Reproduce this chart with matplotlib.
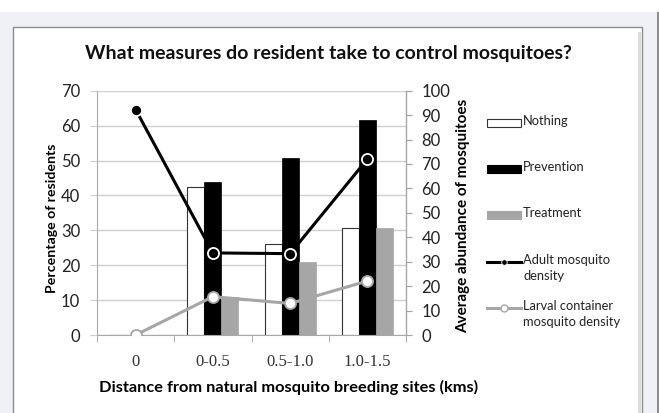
import numpy as np
import matplotlib.pyplot as plt
from matplotlib.patches import Rectangle
from matplotlib.lines import Line2D

# data
categories = ['0', '0-0.5', '0.5-1.0', '1.0-1.5']
nothing = [0, 42.5, 26, 30.8]
prevention = [0, 43.7, 50.8, 61.7]
treatment = [0, 11, 21, 30.8]
adult_density = [92.3, 33.6, 33.3, 72]
larval_density = [0, 15.7, 12.9, 22.1]

plt.rcParams['font.family'] = ['Lato', 'DejaVu Sans']

fig = plt.figure(figsize=(6.59, 4.13), dpi=100)
fig.patch.set_facecolor('#f0f1f7')

# white chart box like the excel frame
W, H = 659, 413
def fx(px): return px / W
def fy(py): return 1 - py / H

fig.patches.append(Rectangle((0, fy(12)), 1, 12 / H, transform=fig.transFigure,
                             facecolor='white', edgecolor='none', zorder=-5))
fig.patches.append(Rectangle((fx(13), -0.01), (642 - 13) / W, (413 - 27) / H + 0.01,
                             transform=fig.transFigure, facecolor='white',
                             edgecolor='#8c8c8c', linewidth=1.0, zorder=-5))
fig.patches.append(Rectangle((fx(638), -0.01), 3 / W, (413 - 28) / H,
                             transform=fig.transFigure, facecolor='#dcdcdc',
                             edgecolor='none', zorder=-5))
fig.patches.append(Rectangle((fx(657), 0), 2 / W, fy(12), transform=fig.transFigure,
                             facecolor='#8c8c8c', edgecolor='none', zorder=-5))

ax = fig.add_axes([fx(97), fy(335), (406 - 97) / W, (335 - 90.7) / H])
ax.set_facecolor('none')
ax2 = ax.twinx()

x = np.arange(len(categories))
bw = 0.22
grid_c = '#d0d0d0'
gray = '#a6a6a6'

ax.bar(x - bw, nothing, bw, color='white', edgecolor='#333333', linewidth=0.8, zorder=2)
ax.bar(x, prevention, bw, color='black', edgecolor='black', linewidth=0.5, zorder=2)
ax.bar(x + bw, treatment, bw, color=gray, edgecolor=gray, linewidth=0.5, zorder=2)

ax.set_ylim(0, 70)
ax.set_xlim(-0.5, 3.5)
ax.set_yticks(np.arange(0, 71, 10))
ax.yaxis.grid(True, color=grid_c, linewidth=1.0, zorder=0)
ax.set_axisbelow(True)
ax.tick_params(axis='y', length=5, color=grid_c, pad=7, labelsize=12, labelcolor='#222222')
ax.set_xticks(x)
ax.set_xticklabels(categories, family='Liberation Serif', fontsize=12, color='#333333')
ax.set_xticks(np.arange(-0.5, 3.6, 1), minor=True)
ax.tick_params(axis='x', which='major', length=0, pad=14)
ax.tick_params(axis='x', which='minor', length=5, color='#a0a0a0', direction='out')

ax.spines['top'].set_visible(False)
ax2.spines['top'].set_visible(False)
for s in ['left', 'bottom']:
    ax.spines[s].set_color('#a8a8a8')
ax2.spines['right'].set_color('#a8a8a8')
ax2.spines['left'].set_visible(False)
ax2.spines['bottom'].set_visible(False)

ax.set_ylabel('Percentage of residents', fontsize=10.2, fontweight='bold')
ax.yaxis.set_label_coords((52 - 97) / 309, (335 - 218) / 244.3)
ax.set_xlabel('Distance from natural mosquito breeding sites (kms)', fontsize=11.8,
              fontweight='bold')
ax.xaxis.set_label_coords((289 - 97) / 309, -(387 - 335) / 244.3)
ax.xaxis.label.set_va('center')
ax.yaxis.label.set_va('center')

ax2.set_ylim(0, 100)
ax2.set_yticks(np.arange(0, 101, 10))
ax2.tick_params(axis='y', length=4, color='#a0a0a0', pad=7, labelsize=12, labelcolor='#222222')
ax2.set_ylabel('Average abundance of mosquitoes', fontsize=11, fontweight='bold')
ax2.yaxis.set_label_coords((463 - 97) / 309, (335 - 216) / 244.3)
ax2.yaxis.label.set_va('center')

ax2.plot(x, adult_density, color='black', linewidth=2.2, marker='o', markersize=8,
         markerfacecolor='black', markeredgecolor='white', markeredgewidth=1.3, zorder=4)
ax2.plot(x, larval_density, color=gray, linewidth=2.2, marker='o', markersize=8,
         markerfacecolor='white', markeredgecolor=gray, markeredgewidth=1.3, zorder=3)

fig.text(fx(328), fy(53), 'What measures do resident take to control mosquitoes?',
         ha='center', va='center', fontsize=14, fontweight='bold', color='#111111')

# legend laid out the way excel does it: handle next to the first text line
labels = ['Nothing', 'Prevention', 'Treatment', 'Adult mosquito\ndensity',
          'Larval container\nmosquito density']
rows = [123, 169, 215, 262, 308]
hx0, hx1, tx = 487, 521, 523
for lab, ry in zip(labels, rows):
    if lab == 'Nothing':
        fig.add_artist(Rectangle((fx(hx0), fy(ry + 4)), (hx1 - hx0) / W, 8 / H,
                                 transform=fig.transFigure, facecolor='white',
                                 edgecolor='#333333', linewidth=0.8))
    elif lab == 'Prevention':
        fig.add_artist(Rectangle((fx(hx0), fy(ry + 4)), (hx1 - hx0) / W, 8 / H,
                                 transform=fig.transFigure, facecolor='black',
                                 edgecolor='black', linewidth=0.8))
    elif lab == 'Treatment':
        fig.add_artist(Rectangle((fx(hx0), fy(ry + 4)), (hx1 - hx0) / W, 8 / H,
                                 transform=fig.transFigure, facecolor=gray,
                                 edgecolor=gray, linewidth=0.8))
    elif lab.startswith('Adult'):
        fig.add_artist(Line2D([fx(hx0), fx(hx1)], [fy(ry)] * 2, transform=fig.transFigure,
                              color='black', linewidth=2.2))
        fig.add_artist(Line2D([fx((hx0 + hx1) / 2)], [fy(ry)], transform=fig.transFigure,
                              marker='o', markersize=4, color='black',
                              markeredgecolor='white', markeredgewidth=0.6))
    else:
        fig.add_artist(Line2D([fx(hx0), fx(hx1)], [fy(ry)] * 2, transform=fig.transFigure,
                              color=gray, linewidth=2.2))
        fig.add_artist(Line2D([fx((hx0 + hx1) / 2)], [fy(ry)], transform=fig.transFigure,
                              marker='o', markersize=5, markerfacecolor='white',
                              markeredgecolor=gray, markeredgewidth=1.0))
    fig.text(fx(tx), fy(ry - 8), lab, ha='left', va='top', fontsize=9.3,
             color='#222222', linespacing=1.45)

fig.savefig('out.png', dpi=100, facecolor=fig.get_facecolor())
